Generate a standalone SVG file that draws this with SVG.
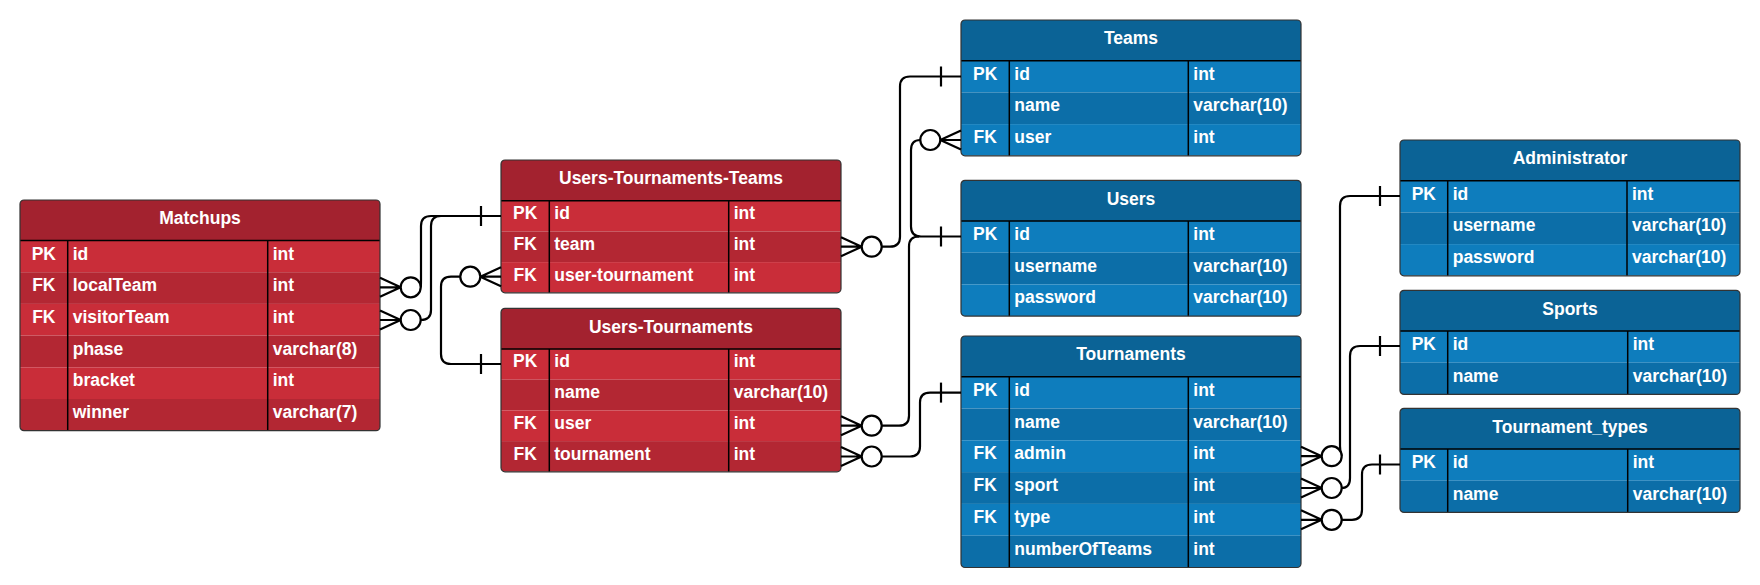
<svg xmlns="http://www.w3.org/2000/svg" width="1760" height="585" viewBox="0 0 1760 585">
<style>
.hd{fill:#A3222F}.r1{fill:#C92D39}.r2{fill:#B32733}
.bh{fill:#0B6396}.b1{fill:#0E7DBD}.b2{fill:#0C6EA8}
.t{font-family:"Liberation Sans",Arial,sans-serif;font-weight:bold;font-size:17.5px;fill:#fff}
.c{text-anchor:middle}
.ol{fill:none;stroke:#333;stroke-width:1.2}
.dv{stroke:#000;stroke-width:1.5}
.cn{fill:none;stroke:#000;stroke-width:2.2}
.ci{fill:#fff;stroke:#000;stroke-width:2.2}
</style>
<defs>
<clipPath id="cm"><rect width="360" height="230.7" rx="4"/></clipPath>
<clipPath id="cutt"><rect width="340" height="132.8" rx="4"/></clipPath>
<clipPath id="cut"><rect width="340" height="163.5" rx="4"/></clipPath>
<clipPath id="c3"><rect width="340" height="135.8" rx="4"/></clipPath>
<clipPath id="c6"><rect width="340" height="231.5" rx="4"/></clipPath>
<clipPath id="c2"><rect width="340" height="104.1" rx="4"/></clipPath>
</defs>
<rect width="1760" height="585" fill="#fff"/>

<g id="matchups" transform="translate(20,200)">
<g clip-path="url(#cm)">
<rect class="hd" width="360" height="40.5"/>
<rect class="r1" y="40.5" width="360" height="31.7"/>
<rect class="r2" y="72.2" width="360" height="31.7"/>
<rect class="r1" y="103.9" width="360" height="31.7"/>
<rect class="r2" y="135.6" width="360" height="31.7"/>
<rect class="r1" y="167.3" width="360" height="31.7"/>
<rect class="r2" y="199" width="360" height="31.7"/>
</g>
<line class="dv" x1="0" y1="40.5" x2="360" y2="40.5"/>
<line class="dv" x1="47.7" y1="40.5" x2="47.7" y2="230.7"/>
<line class="dv" x1="247.7" y1="40.5" x2="247.7" y2="230.7"/>
<rect class="ol" width="360" height="230.7" rx="4"/>
<text class="t c" x="180" y="24.3">Matchups</text>
<text class="t c" x="23.85" y="59.5">PK</text><text class="t" x="52.7" y="59.5">id</text><text class="t" x="252.7" y="59.5">int</text>
<text class="t c" x="23.85" y="91.2">FK</text><text class="t" x="52.7" y="91.2">localTeam</text><text class="t" x="252.7" y="91.2">int</text>
<text class="t c" x="23.85" y="122.9">FK</text><text class="t" x="52.7" y="122.9">visitorTeam</text><text class="t" x="252.7" y="122.9">int</text>
<text class="t" x="52.7" y="154.6">phase</text><text class="t" x="252.7" y="154.6">varchar(8)</text>
<text class="t" x="52.7" y="186.3">bracket</text><text class="t" x="252.7" y="186.3">int</text>
<text class="t" x="52.7" y="218">winner</text><text class="t" x="252.7" y="218">varchar(7)</text>
</g>

<g id="users-tournaments-teams" transform="translate(501,160)">
<g clip-path="url(#cutt)">
<rect class="hd" width="340" height="40.7"/>
<rect class="r1" y="40.7" width="340" height="30.7"/>
<rect class="r2" y="71.4" width="340" height="30.7"/>
<rect class="r1" y="102.1" width="340" height="30.7"/>
</g>
<line class="dv" x1="0" y1="40.7" x2="340" y2="40.7"/>
<line class="dv" x1="48.3" y1="40.7" x2="48.3" y2="132.8"/>
<line class="dv" x1="227.7" y1="40.7" x2="227.7" y2="132.8"/>
<rect class="ol" width="340" height="132.8" rx="4"/>
<text class="t c" x="170" y="24.3">Users-Tournaments-Teams</text>
<text class="t c" x="24.15" y="59.2">PK</text><text class="t" x="53.3" y="59.2">id</text><text class="t" x="232.7" y="59.2">int</text>
<text class="t c" x="24.15" y="89.9">FK</text><text class="t" x="53.3" y="89.9">team</text><text class="t" x="232.7" y="89.9">int</text>
<text class="t c" x="24.15" y="120.6">FK</text><text class="t" x="53.3" y="120.6">user-tournament</text><text class="t" x="232.7" y="120.6">int</text>
</g>

<g id="users-tournaments" transform="translate(501,308.3)">
<g clip-path="url(#cut)">
<rect class="hd" width="340" height="40.7"/>
<rect class="r1" y="40.7" width="340" height="30.7"/>
<rect class="r2" y="71.4" width="340" height="30.7"/>
<rect class="r1" y="102.1" width="340" height="30.7"/>
<rect class="r2" y="132.8" width="340" height="30.7"/>
</g>
<line class="dv" x1="0" y1="40.7" x2="340" y2="40.7"/>
<line class="dv" x1="48.3" y1="40.7" x2="48.3" y2="163.5"/>
<line class="dv" x1="227.7" y1="40.7" x2="227.7" y2="163.5"/>
<rect class="ol" width="340" height="163.5" rx="4"/>
<text class="t c" x="170" y="24.3">Users-Tournaments</text>
<text class="t c" x="24.15" y="59.2">PK</text><text class="t" x="53.3" y="59.2">id</text><text class="t" x="232.7" y="59.2">int</text>
<text class="t" x="53.3" y="89.9">name</text><text class="t" x="232.7" y="89.9">varchar(10)</text>
<text class="t c" x="24.15" y="120.6">FK</text><text class="t" x="53.3" y="120.6">user</text><text class="t" x="232.7" y="120.6">int</text>
<text class="t c" x="24.15" y="151.3">FK</text><text class="t" x="53.3" y="151.3">tournament</text><text class="t" x="232.7" y="151.3">int</text>
</g>

<g id="teams" transform="translate(961,20)">
<g clip-path="url(#c3)">
<rect class="bh" width="340" height="40.7"/>
<rect class="b1" y="40.7" width="340" height="31.7"/>
<rect class="b2" y="72.4" width="340" height="31.7"/>
<rect class="b1" y="104.1" width="340" height="31.7"/>
</g>
<line class="dv" x1="0" y1="40.7" x2="340" y2="40.7"/>
<line class="dv" x1="48.3" y1="40.7" x2="48.3" y2="135.8"/>
<line class="dv" x1="227.3" y1="40.7" x2="227.3" y2="135.8"/>
<rect class="ol" width="340" height="135.8" rx="4"/>
<text class="t c" x="170" y="24.3">Teams</text>
<text class="t c" x="24.15" y="59.7">PK</text><text class="t" x="53.3" y="59.7">id</text><text class="t" x="232.3" y="59.7">int</text>
<text class="t" x="53.3" y="91.4">name</text><text class="t" x="232.3" y="91.4">varchar(10)</text>
<text class="t c" x="24.15" y="123.1">FK</text><text class="t" x="53.3" y="123.1">user</text><text class="t" x="232.3" y="123.1">int</text>
</g>

<g id="users" transform="translate(961,180.3)">
<g clip-path="url(#c3)">
<rect class="bh" width="340" height="40.7"/>
<rect class="b1" y="40.7" width="340" height="31.7"/>
<rect class="b2" y="72.4" width="340" height="31.7"/>
<rect class="b1" y="104.1" width="340" height="31.7"/>
</g>
<line class="dv" x1="0" y1="40.7" x2="340" y2="40.7"/>
<line class="dv" x1="48.3" y1="40.7" x2="48.3" y2="135.8"/>
<line class="dv" x1="227.3" y1="40.7" x2="227.3" y2="135.8"/>
<rect class="ol" width="340" height="135.8" rx="4"/>
<text class="t c" x="170" y="24.3">Users</text>
<text class="t c" x="24.15" y="59.7">PK</text><text class="t" x="53.3" y="59.7">id</text><text class="t" x="232.3" y="59.7">int</text>
<text class="t" x="53.3" y="91.4">username</text><text class="t" x="232.3" y="91.4">varchar(10)</text>
<text class="t" x="53.3" y="123.1">password</text><text class="t" x="232.3" y="123.1">varchar(10)</text>
</g>

<g id="tournaments" transform="translate(961,336)">
<g clip-path="url(#c6)">
<rect class="bh" width="340" height="40.7"/>
<rect class="b1" y="40.7" width="340" height="31.8"/>
<rect class="b2" y="72.5" width="340" height="31.8"/>
<rect class="b1" y="104.3" width="340" height="31.8"/>
<rect class="b2" y="136.1" width="340" height="31.8"/>
<rect class="b1" y="167.9" width="340" height="31.8"/>
<rect class="b2" y="199.7" width="340" height="31.8"/>
</g>
<line class="dv" x1="0" y1="40.7" x2="340" y2="40.7"/>
<line class="dv" x1="48.3" y1="40.7" x2="48.3" y2="231.5"/>
<line class="dv" x1="227.3" y1="40.7" x2="227.3" y2="231.5"/>
<rect class="ol" width="340" height="231.5" rx="4"/>
<text class="t c" x="170" y="24.3">Tournaments</text>
<text class="t c" x="24.15" y="59.7">PK</text><text class="t" x="53.3" y="59.7">id</text><text class="t" x="232.3" y="59.7">int</text>
<text class="t" x="53.3" y="91.5">name</text><text class="t" x="232.3" y="91.5">varchar(10)</text>
<text class="t c" x="24.15" y="123.3">FK</text><text class="t" x="53.3" y="123.3">admin</text><text class="t" x="232.3" y="123.3">int</text>
<text class="t c" x="24.15" y="155.1">FK</text><text class="t" x="53.3" y="155.1">sport</text><text class="t" x="232.3" y="155.1">int</text>
<text class="t c" x="24.15" y="186.9">FK</text><text class="t" x="53.3" y="186.9">type</text><text class="t" x="232.3" y="186.9">int</text>
<text class="t" x="53.3" y="218.7">numberOfTeams</text><text class="t" x="232.3" y="218.7">int</text>
</g>

<g id="administrator" transform="translate(1400,140)">
<g clip-path="url(#c3)">
<rect class="bh" width="340" height="40.7"/>
<rect class="b1" y="40.7" width="340" height="31.7"/>
<rect class="b2" y="72.4" width="340" height="31.7"/>
<rect class="b1" y="104.1" width="340" height="31.7"/>
</g>
<line class="dv" x1="0" y1="40.7" x2="340" y2="40.7"/>
<line class="dv" x1="47.7" y1="40.7" x2="47.7" y2="135.8"/>
<line class="dv" x1="227" y1="40.7" x2="227" y2="135.8"/>
<rect class="ol" width="340" height="135.8" rx="4"/>
<text class="t c" x="170" y="24.3">Administrator</text>
<text class="t c" x="23.85" y="59.7">PK</text><text class="t" x="52.7" y="59.7">id</text><text class="t" x="232" y="59.7">int</text>
<text class="t" x="52.7" y="91.4">username</text><text class="t" x="232" y="91.4">varchar(10)</text>
<text class="t" x="52.7" y="123.1">password</text><text class="t" x="232" y="123.1">varchar(10)</text>
</g>

<g id="sports" transform="translate(1400,290.3)">
<g clip-path="url(#c2)">
<rect class="bh" width="340" height="40.7"/>
<rect class="b1" y="40.7" width="340" height="31.7"/>
<rect class="b2" y="72.4" width="340" height="31.7"/>
</g>
<line class="dv" x1="0" y1="40.7" x2="340" y2="40.7"/>
<line class="dv" x1="47.7" y1="40.7" x2="47.7" y2="104.1"/>
<line class="dv" x1="227.7" y1="40.7" x2="227.7" y2="104.1"/>
<rect class="ol" width="340" height="104.1" rx="4"/>
<text class="t c" x="170" y="24.3">Sports</text>
<text class="t c" x="23.85" y="59.7">PK</text><text class="t" x="52.7" y="59.7">id</text><text class="t" x="232.7" y="59.7">int</text>
<text class="t" x="52.7" y="91.4">name</text><text class="t" x="232.7" y="91.4">varchar(10)</text>
</g>

<g id="tournament_types" transform="translate(1400,408.3)">
<g clip-path="url(#c2)">
<rect class="bh" width="340" height="40.7"/>
<rect class="b1" y="40.7" width="340" height="31.7"/>
<rect class="b2" y="72.4" width="340" height="31.7"/>
</g>
<line class="dv" x1="0" y1="40.7" x2="340" y2="40.7"/>
<line class="dv" x1="47.7" y1="40.7" x2="47.7" y2="104.1"/>
<line class="dv" x1="227.7" y1="40.7" x2="227.7" y2="104.1"/>
<rect class="ol" width="340" height="104.1" rx="4"/>
<text class="t c" x="170" y="24.3">Tournament_types</text>
<text class="t c" x="23.85" y="59.7">PK</text><text class="t" x="52.7" y="59.7">id</text><text class="t" x="232.7" y="59.7">int</text>
<text class="t" x="52.7" y="91.4">name</text><text class="t" x="232.7" y="91.4">varchar(10)</text>
</g>

<g id="connectors">
<!-- Matchups.localTeam -> UTT.id -->
<path class="cn" d="M380 277.8 L400.7 287.3 M380 287.3 H400.7 M380 296.8 L400.7 287.3"/>
<path class="cn" d="M420.7 287.3 Q421 286 421 280 V226 Q421 216 431 216 H501"/>
<circle class="ci" cx="410.7" cy="287.3" r="10"/>
<!-- Matchups.visitorTeam -> UTT.id -->
<path class="cn" d="M380 310.5 L400.7 320 M380 320 H400.7 M380 329.5 L400.7 320"/>
<path class="cn" d="M420.7 320 Q431 320 431 310 V226 Q431 216 441 216 H501"/>
<circle class="ci" cx="410.7" cy="320" r="10"/>
<path class="cn" d="M481 206 V226"/>
<!-- UTT.user-tournament -> UT.id -->
<path class="cn" d="M501 267.2 L480.3 276.7 M501 276.7 H480.3 M501 286.2 L480.3 276.7"/>
<path class="cn" d="M460.3 276.7 H451 Q441 276.7 441 286.7 V354 Q441 364 451 364 H501"/>
<circle class="ci" cx="470.3" cy="276.7" r="10"/>
<path class="cn" d="M481 354 V374"/>
<!-- UTT.team -> Teams.id -->
<path class="cn" d="M841 237.2 L861.7 246.7 M841 246.7 H861.7 M841 256.2 L861.7 246.7"/>
<path class="cn" d="M881.7 246.7 H890 Q900 246.7 900 236.7 V86.5 Q900 76.5 910 76.5 H961"/>
<circle class="ci" cx="871.7" cy="246.7" r="10"/>
<path class="cn" d="M941 66.5 V86.5"/>
<!-- Teams.user -> Users.id -->
<path class="cn" d="M961 130.5 L940.3 140 M961 140 H940.3 M961 149.5 L940.3 140"/>
<path class="cn" d="M920.3 140 Q911 140 911 150 V226.5 Q911 236.5 921 236.5 H961"/>
<circle class="ci" cx="930.3" cy="140" r="10"/>
<path class="cn" d="M941 226.5 V246.5"/>
<!-- UT.user -> Users.id -->
<path class="cn" d="M841 416.2 L861.7 425.7 M841 425.7 H861.7 M841 435.2 L861.7 425.7"/>
<path class="cn" d="M881.7 425.7 H899 Q909 425.7 909 415.7 V246.5 Q909 236.5 919 236.5"/>
<circle class="ci" cx="871.7" cy="425.7" r="10"/>
<!-- UT.tournament -> Tournaments.id -->
<path class="cn" d="M841 447 L861.7 456.5 M841 456.5 H861.7 M841 466 L861.7 456.5"/>
<path class="cn" d="M881.7 456.5 H910 Q920 456.5 920 446.5 V402.6 Q920 392.6 930 392.6 H961"/>
<circle class="ci" cx="871.7" cy="456.5" r="10"/>
<path class="cn" d="M941 382.6 V402.6"/>
<!-- Tournaments.admin -> Administrator.id -->
<path class="cn" d="M1301 446.7 L1321.7 456.2 M1301 456.2 H1321.7 M1301 465.7 L1321.7 456.2"/>
<path class="cn" d="M1341.7 456.2 Q1340 452 1340 446 V206 Q1340 196 1350 196 H1400"/>
<circle class="ci" cx="1331.7" cy="456.2" r="10"/>
<path class="cn" d="M1380 186 V206"/>
<!-- Tournaments.sport -> Sports.id -->
<path class="cn" d="M1301 478.5 L1321.7 488 M1301 488 H1321.7 M1301 497.5 L1321.7 488"/>
<path class="cn" d="M1341.7 488 Q1350 488 1350 478 V356 Q1350 346 1360 346 H1400"/>
<circle class="ci" cx="1331.7" cy="488" r="10"/>
<path class="cn" d="M1380 336 V356"/>
<!-- Tournaments.type -> Tournament_types.id -->
<path class="cn" d="M1301 510.3 L1321.7 519.8 M1301 519.8 H1321.7 M1301 529.3 L1321.7 519.8"/>
<path class="cn" d="M1341.7 519.8 H1352 Q1362 519.8 1362 509.8 V474.5 Q1362 464.5 1372 464.5 H1400"/>
<circle class="ci" cx="1331.7" cy="519.8" r="10"/>
<path class="cn" d="M1380 454.5 V474.5"/>
</g>
</svg>
